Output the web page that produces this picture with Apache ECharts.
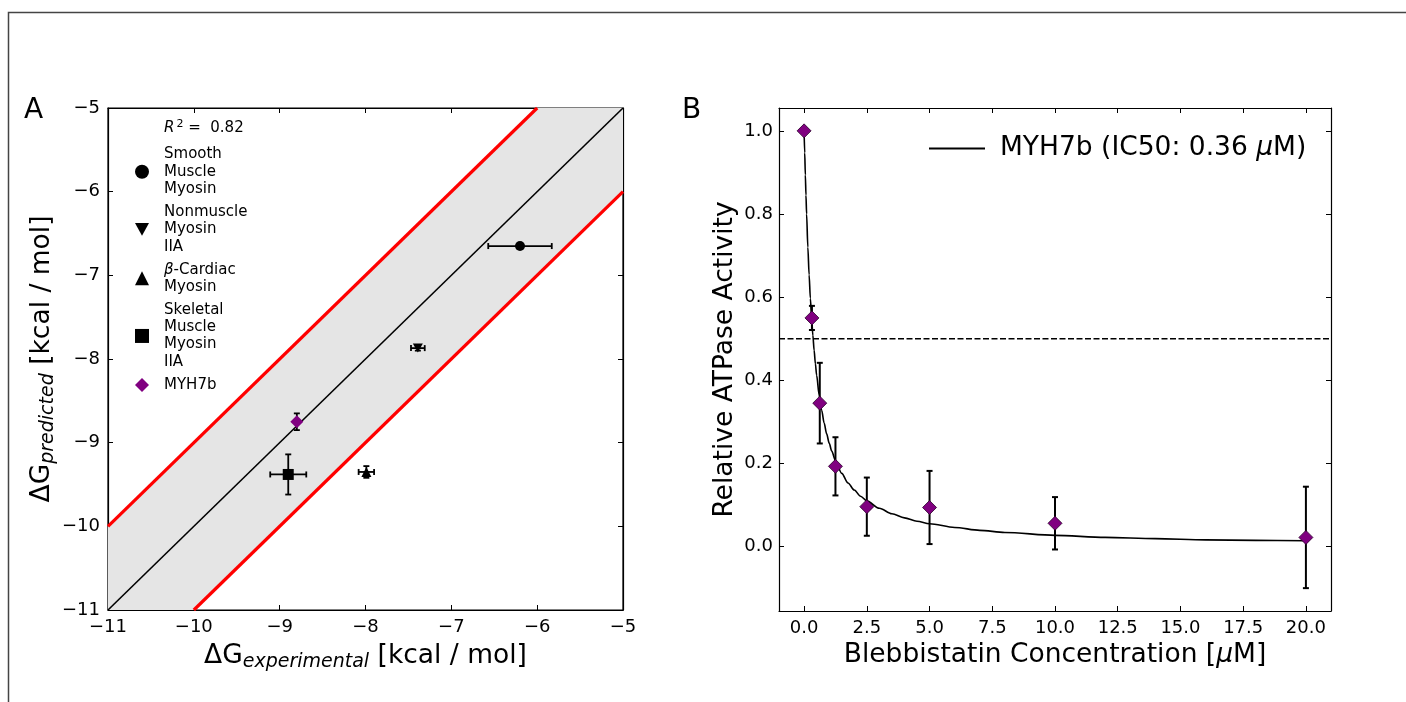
<!DOCTYPE html>
<html>
<head>
<meta charset="utf-8">
<script src="https://cdn.jsdelivr.net/npm/echarts@6/dist/echarts.min.js"></script>
<style>
  html, body { margin: 0; padding: 0; background: #fff; }
  #main { width: 1406px; height: 702px; }
</style>
</head>
<body>
<div id="main"></div>
<script>
// panel A: predicted vs experimental binding free energy
var proteinNames = ['Smooth\nMuscle\nMyosin', 'Nonmuscle\nMyosin\nIIA', '\u03b2-Cardiac\nMyosin', 'Skeletal\nMuscle\nMyosin\nIIA', 'MYH7b'];
var dgExperimental = [-6.20, -7.39, -7.99, -8.90, -8.80];
var dgPredicted = [-6.65, -7.87, -9.35, -9.38, -8.75];
var dgExpErr = [0.37, 0.08, 0.09, 0.21, 0.02];
var dgPredErr = [0, 0.03, 0.07, 0.24, 0.10];
var identityLine = [[-11, -11], [-5, -5]];
var upperLine = [[-11, -10], [-6, -5]];
var lowerLine = [[-10, -11], [-5, -6]];
var bandPoly = [[-11, -11], [-11, -10], [-6, -5], [-5, -5], [-5, -6], [-10, -11]];

// panel B: blebbistatin inhibition
var conc = [0, 0.3125, 0.625, 1.25, 2.5, 5, 10, 20];
var activity = [1.0, 0.55, 0.345, 0.193, 0.096, 0.094, 0.056, 0.022];
var activityErr = [0, 0.029, 0.097, 0.07, 0.07, 0.088, 0.063, 0.122];
var fitX = [0, 0.025, 0.05, 0.075, 0.1, 0.15, 0.2, 0.25, 0.3, 0.35, 0.4, 0.45, 0.5, 0.6, 0.7, 0.8, 0.9, 1.0, 1.1, 1.25, 1.5, 1.75, 2, 2.25, 2.5, 3, 3.5, 4, 4.5, 5, 6, 7, 8, 10, 12, 14, 16, 18, 20];
var fitY = [1.0, 0.947, 0.894, 0.845, 0.80, 0.72, 0.654, 0.597, 0.549, 0.508, 0.472, 0.44, 0.412, 0.365, 0.328, 0.297, 0.271, 0.249, 0.23, 0.207, 0.176, 0.153, 0.136, 0.121, 0.110, 0.092, 0.079, 0.069, 0.061, 0.055, 0.046, 0.039, 0.034, 0.027, 0.022, 0.019, 0.016, 0.015, 0.014];
var concTicks = [0, 2.5, 5, 7.5, 10, 12.5, 15, 17.5, 20];
var activityTicks = [0, 0.2, 0.4, 0.6, 0.8, 1.0];
var dgTicks = [-11, -10, -9, -8, -7, -6, -5];

var FONT = 'DejaVu Sans';
var myChart = echarts.init(document.getElementById('main'));

function errorBars(color, width) {
    return function (params, api) {
        var x = api.value(0), y = api.value(1), xe = api.value(2), ye = api.value(3);
        var cap = 3;
        var kids = [];
        var st = { stroke: color, lineWidth: width };
        if (xe > 0) {
            var a = api.coord([x - xe, y]), b = api.coord([x + xe, y]);
            kids.push({ type: 'line', shape: { x1: a[0], y1: a[1], x2: b[0], y2: b[1] }, style: st });
            kids.push({ type: 'line', shape: { x1: a[0], y1: a[1] - cap, x2: a[0], y2: a[1] + cap }, style: st });
            kids.push({ type: 'line', shape: { x1: b[0], y1: b[1] - cap, x2: b[0], y2: b[1] + cap }, style: st });
        }
        if (ye > 0) {
            var c = api.coord([x, y - ye]), d = api.coord([x, y + ye]);
            kids.push({ type: 'line', shape: { x1: c[0], y1: c[1], x2: d[0], y2: d[1] }, style: st });
            kids.push({ type: 'line', shape: { x1: c[0] - cap, y1: c[1], x2: c[0] + cap, y2: c[1] }, style: st });
            kids.push({ type: 'line', shape: { x1: d[0] - cap, y1: d[1], x2: d[0] + cap, y2: d[1] }, style: st });
        }
        return { type: 'group', children: kids };
    };
}

function minusFmt(v) { return String(v).replace('-', '\u2212'); }

function axisCommon(extra) {
    var base = {
        type: 'value', show: true,
        axisLine: { show: true, onZero: false, lineStyle: { color: '#000', width: 1.2 } },
        axisTick: { show: true, inside: true, length: 5, lineStyle: { color: '#000', width: 1 } },
        axisLabel: { show: false, color: '#000', fontFamily: FONT, fontSize: 18 },
        splitLine: { show: false }
    };
    return echarts.util.merge(base, extra, true);
}

var nameStyle = {
    color: '#000', fontFamily: FONT, fontSize: 26.5,
    rich: {
        n: { fontFamily: FONT, fontSize: 26.5, color: '#000' },
        s: { fontFamily: FONT, fontSize: 19, fontStyle: 'italic', color: '#000', padding: [13, 0, 0, 0] },
        i: { fontFamily: FONT, fontSize: 26.5, fontStyle: 'italic', color: '#000' }
    }
};

var errData = dgExperimental.map(function (x, i) { return [x, dgPredicted[i], dgExpErr[i], dgPredErr[i]]; });
var actErrData = conc.map(function (x, i) { return [x, activity[i], 0, activityErr[i]]; });

var symbols = ['circle', 'path://M0,0 L10,0 L5,9 Z', 'triangle', 'rect', 'diamond'];
var symbolSizes = [10, 10, 10, 11, 13];
var colors = ['#000', '#000', '#000', '#000', '#800080'];

var proteinSeries = proteinNames.map(function (name, i) {
    return {
        type: 'scatter', name: name, xAxisIndex: 0, yAxisIndex: 0,
        symbol: symbols[i], symbolSize: symbolSizes[i], symbolKeepAspect: true,
        itemStyle: { color: colors[i], opacity: 1 },
        data: [[dgExperimental[i], dgPredicted[i]]], z: 5
    };
});

// legend text: every line gets the left padding, a leading beta is italic
function legendLabel(name) {
    return name.split('\n').map(function (line) {
        if (line.charAt(0) === '\u03b2') {
            return '{bp|\u03b2}{t0|' + line.slice(1) + '}';
        }
        return '{tp|' + line + '}';
    }).join('\n');
}

var fitName = 'MYH7b (IC50: 0.36 \u03bcM)';

option = {
    animation: false,
    backgroundColor: '#fff',
    grid: [
        { left: 108, top: 108, width: 515, height: 502, show: true, borderColor: '#000', borderWidth: 1.2, backgroundColor: 'transparent' },
        { left: 779, top: 108, width: 552, height: 503 }
    ],
    xAxis: [
        axisCommon({
            gridIndex: 0, position: 'bottom', min: -11, max: -5, interval: 1,
            axisLabel: { show: true, formatter: minusFmt, margin: 8 },
            name: '{n|\u0394G}{s|experimental}{n| [kcal / mol]}', nameLocation: 'middle', nameGap: 30,
            nameTextStyle: nameStyle
        }),
        axisCommon({ gridIndex: 0, position: 'top', min: -11, max: -5, axisTick: { customValues: dgTicks } }),
        axisCommon({
            gridIndex: 1, position: 'bottom', min: -1, max: 21,
            axisTick: { customValues: concTicks },
            axisLabel: { show: true, customValues: concTicks, formatter: function (v) { return v.toFixed(1); }, margin: 8 },
            name: '{n|Blebbistatin Concentration [}{i|\u03bc}{n|M]}', nameLocation: 'middle', nameGap: 31,
            nameTextStyle: nameStyle
        }),
        axisCommon({ gridIndex: 1, position: 'top', min: -1, max: 21, axisTick: { customValues: concTicks } })
    ],
    yAxis: [
        axisCommon({
            gridIndex: 0, position: 'left', min: -11, max: -5, interval: 1,
            axisLabel: { show: true, formatter: minusFmt, margin: 8 },
            name: '{n|\u0394G}{s|predicted}{n| [kcal / mol]}', nameLocation: 'middle', nameGap: 50,
            nameTextStyle: nameStyle
        }),
        axisCommon({ gridIndex: 0, position: 'right', min: -11, max: -5, interval: 1 }),
        axisCommon({
            gridIndex: 1, position: 'left', min: -0.155, max: 1.055,
            axisTick: { customValues: activityTicks },
            axisLabel: { show: true, customValues: activityTicks, formatter: function (v) { return v.toFixed(1); }, margin: 6 },
            name: 'Relative ATPase Activity', nameLocation: 'middle', nameGap: 40,
            nameTextStyle: nameStyle
        }),
        axisCommon({ gridIndex: 1, position: 'right', min: -0.155, max: 1.055, axisTick: { customValues: activityTicks } })
    ],
    legend: [
        {
            data: proteinNames, orient: 'vertical', left: 130, top: 142, itemGap: 8,
            itemWidth: 14, itemHeight: 14, selectedMode: false,
            formatter: legendLabel,
            textStyle: {
                rich: {
                    tp: { fontFamily: FONT, fontSize: 15, lineHeight: 17.3, color: '#000', padding: [0, 0, 0, 10] },
                    bp: { fontFamily: FONT, fontSize: 15, lineHeight: 17.3, fontStyle: 'italic', color: '#000', padding: [0, 0, 0, 10] },
                    t0: { fontFamily: FONT, fontSize: 15, lineHeight: 17.3, color: '#000' }
                }
            }
        },
        {
            data: [fitName], left: 924, top: 130, itemWidth: 56, itemHeight: 2, icon: 'rect', selectedMode: false,
            itemStyle: { color: '#000' },
            formatter: function () { return '{t|MYH7b (IC50: 0.36 }{i|\u03bc}{e|M)}'; },
            textStyle: {
                rich: {
                    t: { fontFamily: FONT, fontSize: 26.5, color: '#000', padding: [0, 0, 0, 10] },
                    i: { fontFamily: FONT, fontSize: 26.5, fontStyle: 'italic', color: '#000' },
                    e: { fontFamily: FONT, fontSize: 26.5, color: '#000' }
                }
            }
        }
    ],
    graphic: [
        { type: 'rect', shape: { x: 8.5, y: 12.5, width: 1500, height: 800 }, style: { fill: 'none', stroke: '#444', lineWidth: 1.5 } },
        { type: 'text', x: 24, y: 97, style: { text: 'A', font: '28px "DejaVu Sans"', fill: '#000' } },
        { type: 'text', x: 682, y: 97, style: { text: 'B', font: '28px "DejaVu Sans"', fill: '#000' } },
        {
            type: 'text', x: 164, y: 119,
            style: {
                text: '{i|R}{p|2}{n| =  0.82}',
                rich: {
                    i: { fontFamily: FONT, fontSize: 15, fontStyle: 'italic', fill: '#000' },
                    p: { fontFamily: FONT, fontSize: 11, fill: '#000', padding: [0, 0, 8, 2] },
                    n: { fontFamily: FONT, fontSize: 15, fill: '#000' }
                }
            }
        }
    ],
    series: [
        {
            type: 'custom', xAxisIndex: 0, yAxisIndex: 0, silent: true, z: 1,
            data: [bandPoly[0]],
            renderItem: function (params, api) {
                return {
                    type: 'polygon',
                    shape: { points: bandPoly.map(function (p) { return api.coord(p); }) },
                    style: { fill: '#e5e5e5' }
                };
            }
        },
        { type: 'line', xAxisIndex: 0, yAxisIndex: 0, data: identityLine, symbol: 'none', lineStyle: { color: '#000', width: 1.6 }, z: 2 },
        { type: 'line', xAxisIndex: 0, yAxisIndex: 0, data: upperLine, symbol: 'none', lineStyle: { color: '#ff0000', width: 3.2 }, z: 2 },
        { type: 'line', xAxisIndex: 0, yAxisIndex: 0, data: lowerLine, symbol: 'none', lineStyle: { color: '#ff0000', width: 3.2 }, z: 2 },
        {
            type: 'custom', xAxisIndex: 0, yAxisIndex: 0, z: 3, silent: true,
            encode: { x: 0, y: 1 }, data: errData, renderItem: errorBars('#000', 1.8)
        }
    ].concat(proteinSeries).concat([
        {
            type: 'line', xAxisIndex: 2, yAxisIndex: 2, data: [[-1, 0.5], [21, 0.5]], symbol: 'none',
            lineStyle: { color: '#000', width: 1.4, type: [6, 2.5] }, z: 2
        },
        {
            type: 'line', name: fitName, xAxisIndex: 2, yAxisIndex: 2, symbol: 'none', showSymbol: false,
            smooth: 0.3, smoothMonotone: 'x',
            data: fitX.map(function (x, i) { return [x, fitY[i]]; }),
            lineStyle: { color: '#000', width: 1.6 }, itemStyle: { color: '#000' }, z: 3
        },
        {
            type: 'custom', xAxisIndex: 2, yAxisIndex: 2, z: 4, silent: true,
            encode: { x: 0, y: 1 }, data: actErrData, renderItem: errorBars('#000', 2)
        },
        {
            type: 'scatter', xAxisIndex: 2, yAxisIndex: 2, symbol: 'diamond', symbolSize: 14,
            itemStyle: { color: '#800080', borderColor: '#2a002a', borderWidth: 0.8, opacity: 1 },
            data: conc.map(function (x, i) { return [x, activity[i]]; }), z: 5
        }
    ])
};

if (option && typeof option === "object") {
    myChart.setOption(option, true);
}
</script>
</body>
</html>
